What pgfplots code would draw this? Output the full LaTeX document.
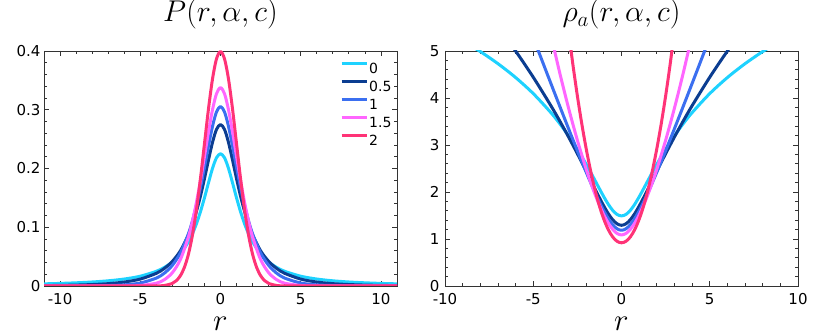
\RequirePackage{fix-cm}
\documentclass[border=0pt]{standalone}
\usepackage{fontspec}
\setmainfont{DejaVu Sans}
\usepackage{pgfplots}
\pgfplotsset{compat=1.18}

\definecolor{czero}{HTML}{1ED2FF}
\definecolor{chalf}{HTML}{0B3D91}
\definecolor{cone}{HTML}{3B6FF0}
\definecolor{conehalf}{HTML}{FF66FF}
\definecolor{ctwo}{HTML}{FF3377}

\pgfplotsset{
  lossaxis/.style={
    scale only axis, width=353pt, height=235pt,
    axis line style={line width=0.9pt, black!80},
    tick align=inside,
    major tick length=5pt, minor tick length=3pt,
    every tick/.style={black!80, line width=0.8pt},
    tick label style={font=\fontsize{15}{15}\selectfont},
    xticklabel style={yshift=-4pt},
    title style={font=\fontsize{30}{30}\selectfont, at={(0.5,1)}, anchor=base, yshift=23pt, inner sep=0pt},
    xlabel style={font=\fontsize{31}{31}\selectfont, at={(0.5,0)}, anchor=base, yshift=-45pt, inner sep=0pt},
    every axis plot/.append style={line width=3pt, smooth, line join=round},
  }
}

\begin{document}
\begin{tikzpicture}
\useasboundingbox (0,0) rectangle (830pt,336pt);

% left: density
\begin{axis}[lossaxis,
    at={(44pt,50pt)}, anchor=south west,
    xmin=-11, xmax=11, ymin=0, ymax=0.4,
    xtick={-10,-5,0,5,10}, xticklabels={-10,-5,0,5,10},
    ytick={0,0.1,0.2,0.3,0.4}, yticklabels={0,0.1,0.2,0.3,0.4},
    minor xtick={-11,-10,...,11},
    minor ytick={0.02,0.04,0.06,0.08,0.12,0.14,0.16,0.18,0.22,0.24,0.26,0.28,0.32,0.34,0.36,0.38},
    title={$P(r,\alpha,c)$},
    xlabel={$r$},
    legend style={draw=none, fill=none, at={(0.83,0.975)}, anchor=north west,
      font=\fontsize{14}{14}\selectfont, row sep=0pt, column sep=0pt,
      nodes={inner sep=1pt, text height=13pt, text depth=3pt}},
    legend cell align=left,
    legend image code/.code={\draw[#1, line width=3pt] (0pt,0.45em) -- (25pt,0.45em);},
]
\addplot[czero] coordinates {
(-11,0.00366)(-10,0.00441)(-9,0.00542)(-8,0.00682)(-7,0.00883)(-6,0.01185)(-5,0.01667)(-4,0.02501)
(-3.5,0.03159)(-3,0.04092)(-2.5,0.05456)(-2,0.07503)(-1.75,0.08892)(-1.5,0.10592)(-1.25,0.12636)
(-1,0.15005)(-0.75,0.17567)(-0.5,0.20007)(-0.25,0.21826)(0,0.22508)
(0.25,0.21826)(0.5,0.20007)(0.75,0.17567)(1,0.15005)(1.25,0.12636)(1.5,0.10592)(1.75,0.08892)
(2,0.07503)(2.5,0.05456)(3,0.04092)(3.5,0.03159)(4,0.02501)(5,0.01667)(6,0.01185)(7,0.00883)
(8,0.00682)(9,0.00542)(10,0.00441)(11,0.00366)};
\addlegendentry{0}
\addplot[chalf] coordinates {
(-11,0.00067)(-10,0.00101)(-9,0.00156)(-8,0.00247)(-7,0.00401)(-6,0.00674)(-5,0.01176)(-4,0.02157)
(-3.5,0.02984)(-3,0.04193)(-2.5,0.0599)(-2,0.0869)(-1.75,0.1050)(-1.5,0.1270)(-1.25,0.1529)
(-1,0.1826)(-0.75,0.2143)(-0.5,0.2442)(-0.25,0.2665)(0,0.2748)
(0.25,0.2665)(0.5,0.2442)(0.75,0.2143)(1,0.1826)(1.25,0.1529)(1.5,0.1270)(1.75,0.1050)
(2,0.0869)(2.5,0.0599)(3,0.04193)(3.5,0.02984)(4,0.02157)(5,0.01176)(6,0.00674)(7,0.00401)
(8,0.00247)(9,0.00156)(10,0.00101)(11,0.00067)};
\addlegendentry{0.5}
\addplot[cone] coordinates {
(-11,0.00001)(-10,0.00004)(-9,0.0001)(-8,0.00026)(-7,0.00071)(-6,0.0019)(-5,0.00507)(-4,0.01345)
(-3.5,0.0218)(-3,0.03516)(-2.5,0.05624)(-2,0.08878)(-1.75,0.1107)(-1.5,0.13693)(-1.25,0.1676)
(-1,0.20196)(-0.75,0.23799)(-0.5,0.27157)(-0.25,0.29633)(0,0.30559)
(0.25,0.29633)(0.5,0.27157)(0.75,0.23799)(1,0.20196)(1.25,0.1676)(1.5,0.13693)(1.75,0.1107)
(2,0.08878)(2.5,0.05624)(3,0.03516)(3.5,0.0218)(4,0.01345)(5,0.00507)(6,0.0019)(7,0.00071)
(8,0.00026)(9,0.0001)(10,0.00004)(11,0.00001)};
\addlegendentry{1}
\addplot[conehalf] coordinates {
(-11,0)(-9,0)(-7,0.00001)(-6,0.00011)(-5,0.00081)(-4,0.00479)
(-3.5,0.01072)(-3,0.02268)(-2.5,0.0450)(-2,0.0833)(-1.75,0.1101)(-1.5,0.1423)(-1.25,0.1795)
(-1,0.2203)(-0.75,0.2620)(-0.5,0.2998)(-0.25,0.3273)(0,0.3375)
(0.25,0.3273)(0.5,0.2998)(0.75,0.2620)(1,0.2203)(1.25,0.1795)(1.5,0.1423)(1.75,0.1101)
(2,0.0833)(2.5,0.0450)(3,0.02268)(3.5,0.01072)(4,0.00479)(5,0.00081)(6,0.00011)(7,0.00001)
(9,0)(11,0)};
\addlegendentry{1.5}
\addplot[ctwo] coordinates {
(-11,0)(-8,0)(-6,0)(-5,0)(-4,0.00013)(-3.5,0.00087)(-3,0.00443)(-2.75,0.0091)(-2.5,0.01753)
(-2.25,0.0317)(-2,0.05399)(-1.75,0.08628)(-1.5,0.12952)(-1.25,0.18265)(-1,0.24197)
(-0.75,0.30114)(-0.5,0.35207)(-0.25,0.38667)(0,0.39894)
(0.25,0.38667)(0.5,0.35207)(0.75,0.30114)(1,0.24197)(1.25,0.18265)(1.5,0.12952)(1.75,0.08628)
(2,0.05399)(2.25,0.0317)(2.5,0.01753)(2.75,0.0091)(3,0.00443)(3.5,0.00087)(4,0.00013)
(5,0)(6,0)(8,0)(11,0)};
\addlegendentry{2}
\end{axis}

% right: negative log-likelihood
\begin{axis}[lossaxis,
    at={(445pt,50pt)}, anchor=south west,
    xmin=-10, xmax=10, ymin=0, ymax=5,
    xtick={-10,-5,0,5,10}, xticklabels={-10,-5,0,5,10},
    ytick={0,1,2,3,4,5}, yticklabels={0,1,2,3,4,5},
    minor xtick={-10,-9,...,10},
    minor ytick={0.2,0.4,0.6,0.8,1.2,1.4,1.6,1.8,2.2,2.4,2.6,2.8,3.2,3.4,3.6,3.8,4.2,4.4,4.6,4.8},
    yticklabel style={xshift=-2pt},
    title={$\rho_a(r,\alpha,c)$},
    xlabel={$r$},
]
\addplot[czero] coordinates {
(-10,5.4231)(-9,5.2170)(-8,4.9878)(-7,4.7300)(-6,4.4357)(-5,4.0940)(-4,3.6885)(-3.5,3.4549)
(-3,3.1960)(-2.5,2.9084)(-2,2.5899)(-1.75,2.4200)(-1.5,2.2451)(-1.25,2.0686)(-1,1.8968)
(-0.75,1.7391)(-0.5,1.6091)(-0.25,1.5221)(0,1.4913)
(0.25,1.5221)(0.5,1.6091)(0.75,1.7391)(1,1.8968)(1.25,2.0686)(1.5,2.2451)(1.75,2.4200)
(2,2.5899)(2.5,2.9084)(3,3.1960)(3.5,3.4549)(4,3.6885)(5,4.0940)(6,4.4357)(7,4.7300)
(8,4.9878)(9,5.2170)(10,5.4231)};
\addplot[chalf] coordinates {
(-7,5.5181)(-6,4.9999)(-5,4.4423)(-4,3.8360)(-3.5,3.5120)(-3,3.1714)(-2.5,2.8147)(-2,2.4432)
(-1.75,2.2536)(-1.5,2.0639)(-1.25,1.8778)(-1,1.7003)(-0.75,1.5403)(-0.5,1.4096)(-0.25,1.3225)(0,1.2917)
(0.25,1.3225)(0.5,1.4096)(0.75,1.5403)(1,1.7003)(1.25,1.8778)(1.5,2.0639)(1.75,2.2536)
(2,2.4432)(2.5,2.8147)(3,3.1714)(3.5,3.5120)(4,3.8360)(5,4.4423)(6,4.9999)(7,5.5181)};
\addplot[cone] coordinates {
(-5,5.2845)(-4.5,4.7953)(-4,4.3086)(-3.5,3.8256)(-3,3.3478)(-2.5,2.8781)(-2,2.4216)(-1.75,2.2011)
(-1.5,1.9883)(-1.25,1.7863)(-1,1.5997)(-0.75,1.4355)(-0.5,1.3035)(-0.25,1.2163)(0,1.1855)
(0.25,1.2163)(0.5,1.3035)(0.75,1.4355)(1,1.5997)(1.25,1.7863)(1.5,1.9883)(1.75,2.2011)
(2,2.4216)(2.5,2.8781)(3,3.3478)(3.5,3.8256)(4,4.3086)(4.5,4.7953)(5,5.2845)};
\addplot[conehalf] coordinates {
(-4,5.3422)(-3.5,4.5355)(-3,3.7862)(-2.5,3.1006)(-2,2.4849)(-1.75,2.2066)(-1.5,1.9500)
(-1.25,1.7177)(-1,1.5127)(-0.75,1.3395)(-0.5,1.2047)(-0.25,1.1170)(0,1.0862)
(0.25,1.1170)(0.5,1.2047)(0.75,1.3395)(1,1.5127)(1.25,1.7177)(1.5,1.9500)(1.75,2.2066)
(2,2.4849)(2.5,3.1006)(3,3.7862)(3.5,4.5355)(4,5.3422)};
\addplot[ctwo] coordinates {
(-3,5.4189)(-2.75,4.7002)(-2.5,4.0439)(-2.25,3.4502)(-2,2.9189)(-1.75,2.4502)(-1.5,2.0439)
(-1.25,1.7002)(-1,1.4189)(-0.75,1.2002)(-0.5,1.0439)(-0.25,0.9502)(0,0.9189)
(0.25,0.9502)(0.5,1.0439)(0.75,1.2002)(1,1.4189)(1.25,1.7002)(1.5,2.0439)(1.75,2.4502)
(2,2.9189)(2.25,3.4502)(2.5,4.0439)(2.75,4.7002)(3,5.4189)};
\end{axis}
\end{tikzpicture}
\end{document}
